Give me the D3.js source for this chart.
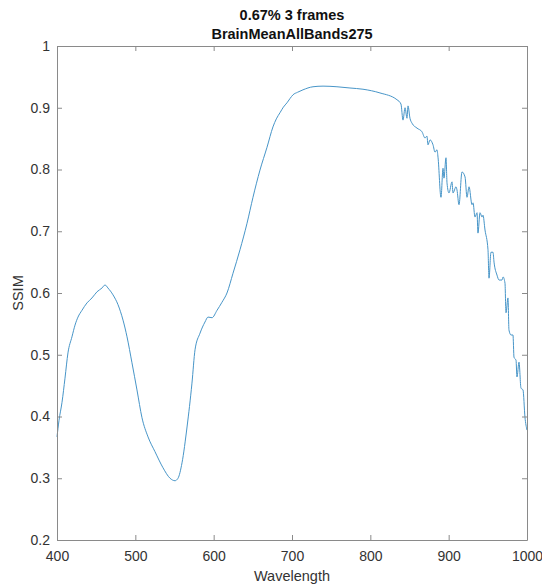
<!DOCTYPE html>
<html>
<head>
<meta charset="utf-8">
<script src="https://cdn.jsdelivr.net/npm/d3@7"></script>
<style>
  body { margin: 0; background: #fff; }
  svg { font-family: "Liberation Sans", Arial, Helvetica, sans-serif; }
  .axis path, .axis line { stroke: #8a8a8a; }
  .axis text { fill: #333; font-size: 14px; }
</style>
</head>
<body>
<script>
const titleLines = ['0.67% 3 frames', 'BrainMeanAllBands275'];
const xLabel = 'Wavelength';
const yLabel = 'SSIM';
const xTicks = [400, 500, 600, 700, 800, 900, 1000];
const yTicks = [0.2, 0.3, 0.4, 0.5, 0.6, 0.7, 0.8, 0.9, 1];

// values
const wavelength = [
  400, 402.6, 406.4, 410.2, 414.0, 419.1, 423.0, 426.8, 431.9, 438.3,
  444.7, 451.1, 457.4, 461.3, 465.1, 471.5, 477.9, 484.3, 489.4, 495.7,
  502.1, 508.5, 516.2, 525.1, 535.3, 544.3, 550.6, 554.5, 559.6, 566.0,
  572.3, 576.2, 582.6, 588.9, 592.8, 597.9, 604.3, 610.6, 617.0, 624.7,
  633.6, 642.6, 650.2, 659.1, 668.1, 675.7, 680.0, 684.7, 689.0, 693.6,
  697.5, 701.3, 707.0, 714.0, 726.8, 739.6, 757.4, 774.0, 790.6, 812.3,
  834.0, 839.1, 841.7, 844.3, 846.8, 848.1, 850.6, 853.2, 859.6, 866.0,
  869.8, 872.3, 873.6, 876.2, 880.0, 882.6, 885.1, 886.4, 890.2, 892.8,
  894.0, 896.6, 897.9, 900.4, 904.3, 905.5, 909.4, 910.6, 913.2, 917.0,
  920.9, 923.4, 926.0, 929.8, 931.1, 933.6, 936.2, 937.4, 940.0, 942.6,
  943.8, 946.4, 950.2, 951.5, 954.0, 956.6, 957.9, 961.7, 964.3, 968.1,
  969.4, 971.9, 973.2, 975.7, 977.0, 979.6, 982.1, 983.4, 986.0, 987.2,
  989.8, 992.3, 994.9, 997.4, 1000
];
const ssim = [
  0.367, 0.394, 0.423, 0.462, 0.503, 0.529, 0.548, 0.561, 0.572, 0.584,
  0.592, 0.602, 0.608, 0.613, 0.608, 0.597, 0.581, 0.556, 0.529, 0.487,
  0.443, 0.398, 0.367, 0.343, 0.317, 0.300, 0.296, 0.300, 0.325, 0.383,
  0.454, 0.508, 0.535, 0.553, 0.561, 0.560, 0.572, 0.585, 0.600, 0.632,
  0.670, 0.713, 0.755, 0.799, 0.836, 0.869, 0.882, 0.892, 0.901, 0.908,
  0.915, 0.921, 0.925, 0.929, 0.934, 0.935, 0.934, 0.932, 0.930, 0.924,
  0.913, 0.906, 0.880, 0.900, 0.883, 0.903, 0.883, 0.875, 0.867, 0.861,
  0.851, 0.854, 0.840, 0.848, 0.840, 0.828, 0.832, 0.820, 0.755, 0.802,
  0.786, 0.819, 0.778, 0.762, 0.780, 0.762, 0.772, 0.767, 0.743, 0.796,
  0.788, 0.755, 0.772, 0.743, 0.746, 0.723, 0.730, 0.697, 0.730, 0.723,
  0.726, 0.702, 0.670, 0.624, 0.666, 0.666, 0.650, 0.629, 0.621, 0.621,
  0.626, 0.616, 0.568, 0.592, 0.540, 0.532, 0.532, 0.496, 0.491, 0.464,
  0.488, 0.446, 0.443, 0.399, 0.378
];

const W = 542, H = 585;
const margin = { top: 46, right: 15, bottom: 45, left: 57 };
const width = W - margin.left - margin.right;
const height = H - margin.top - margin.bottom;

const svg = d3.select('body').append('svg')
  .attr('width', W)
  .attr('height', H);

const x = d3.scaleLinear().domain([400, 1000]).range([0, width]);
const y = d3.scaleLinear().domain([0.2, 1]).range([height, 0]);

const g = svg.append('g')
  .attr('transform', 'translate(' + margin.left + ',' + margin.top + ')');

// data line
const line = d3.line()
  .x((d, i) => x(wavelength[i]))
  .y((d) => y(d))
  .curve(d3.curveMonotoneX);

g.append('path')
  .datum(ssim)
  .attr('fill', 'none')
  .attr('stroke', '#4795c8')
  .attr('stroke-width', 1)
  .attr('stroke-linejoin', 'round')
  .attr('d', line);

// axes, ticks pointing in like matlab
g.append('g')
  .attr('class', 'axis')
  .attr('transform', 'translate(0,' + height + ')')
  .call(d3.axisBottom(x).tickValues(xTicks).tickSizeInner(-5).tickSizeOuter(0).tickPadding(11).tickFormat(d3.format('d')));

g.append('g')
  .attr('class', 'axis')
  .call(d3.axisTop(x).tickValues(xTicks).tickSizeInner(-5).tickSizeOuter(0).tickFormat(''));

g.append('g')
  .attr('class', 'axis')
  .call(d3.axisLeft(y).tickValues(yTicks).tickSizeInner(-5).tickSizeOuter(0).tickPadding(7).tickFormat((d) => d3.format('')(+d.toFixed(1))));

g.append('g')
  .attr('class', 'axis')
  .attr('transform', 'translate(' + width + ',0)')
  .call(d3.axisRight(y).tickValues(yTicks).tickSizeInner(-5).tickSizeOuter(0).tickFormat(''));

// labels
svg.append('text')
  .attr('x', margin.left + width / 2)
  .attr('y', 581)
  .attr('text-anchor', 'middle')
  .attr('fill', '#333')
  .style('font-size', '14.5px')
  .text(xLabel);

svg.append('text')
  .attr('transform', 'translate(23,' + (margin.top + height / 2) + ') rotate(-90)')
  .attr('text-anchor', 'middle')
  .attr('fill', '#333')
  .style('font-size', '14.5px')
  .text(yLabel);

svg.append('g')
  .selectAll('text')
  .data(titleLines)
  .enter()
  .append('text')
  .attr('x', margin.left + width / 2)
  .attr('y', (d, i) => 20 + i * 18.5)
  .attr('text-anchor', 'middle')
  .attr('fill', '#111')
  .style('font-size', '14.5px')
  .style('font-weight', 'bold')
  .text((d) => d);
</script>
</body>
</html>
